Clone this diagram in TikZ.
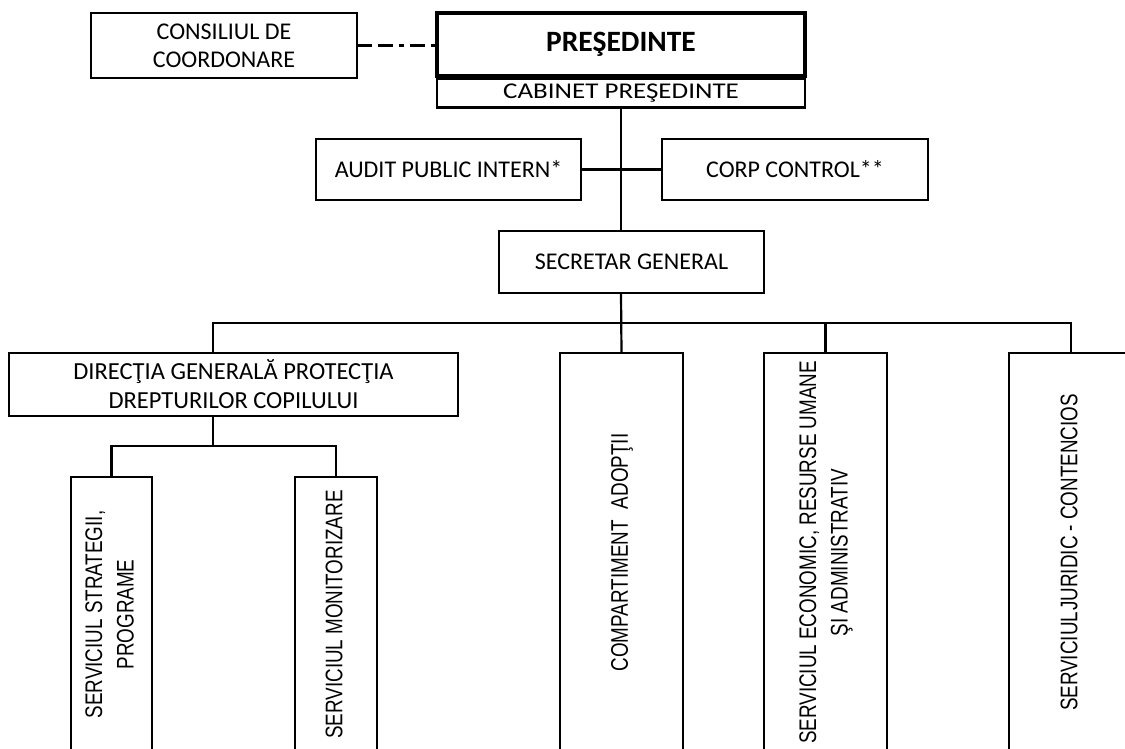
\documentclass[tikz,border=0pt]{standalone}
\usepackage{fontspec}
\setmainfont{Carlito}
\newfontfamily\vfont[FakeStretch=0.785]{Liberation Sans}
\newcommand\vtext[1]{\rotatebox{90}{\vfont\fontsize{24}{31.5}\selectfont\begin{tabular}{@{}c@{}}#1\end{tabular}}}
\begin{document}
\begin{tikzpicture}[x=1pt,y=-1pt,
  box/.style={draw, line width=2.2pt, inner sep=0pt, outer sep=0pt, align=center,
    font=\fontsize{24}{29}\selectfont},
  vbox/.style={draw, line width=2.2pt, inner sep=0pt, outer sep=0pt},
  conn/.style={line width=2.2pt},
  dashdot/.style={line width=3.5pt, dash pattern=on 15pt off 6pt on 15pt off 6pt on 5pt off 6pt}
]
\useasboundingbox (0,0) rectangle (1125,749);
\clip (0,0) rectangle (1125,749);

% top
\node[box, minimum width=266pt, minimum height=65pt, font=\fontsize{24}{28}\selectfont] (cons) at (224,45.5) {CONSILIUL DE\\COORDONARE};
\node[box, minimum width=368pt, minimum height=29pt, font=\fontsize{22.5}{28}\selectfont] (cab) at (621,93) {\scalebox{1.2}[1]{CABINET PREŞEDINTE}};
\node[box, line width=4.5pt, minimum width=368pt, minimum height=63pt, font=\fontsize{29.5}{33}\selectfont\bfseries] (pres) at (621,44.5) {PREŞEDINTE};
\node[box, minimum width=265pt, minimum height=61pt] (audit) at (448.5,169.5) {AUDIT PUBLIC INTERN*};
\node[box, minimum width=266pt, minimum height=61pt] (corp) at (795,169.5) {CORP CONTROL**};
\node[box, minimum width=265pt, minimum height=62pt] (sec) at (631.5,262) {SECRETAR GENERAL};
\node[box, minimum width=449pt, minimum height=63pt, font=\fontsize{24.5}{29}\selectfont] (dir) at (233.5,384.5) {DIRECŢIA GENERALĂ PROTECŢIA\\DREPTURILOR COPILULUI};

% vertical boxes
\node[vbox, minimum width=81pt, minimum height=275pt] (strat) at (111.5,614.5) {\vtext{SERVICIUL STRATEGII,\\PROGRAME}};
\node[vbox, minimum width=82pt, minimum height=275pt] (mon) at (336,614.5) {\vtext{SERVICIUL MONITORIZARE}};
\node[vbox, minimum width=123pt, minimum height=399pt] (comp) at (621.5,552.5) {\vtext{COMPARTIMENT\hspace{0.25em} ADOPŢII}};
\node[vbox, minimum width=123pt, minimum height=399pt] (econ) at (825.5,552.5) {\vtext{SERVICIUL ECONOMIC, RESURSE UMANE\\ŞI ADMINISTRATIV}};
\node[vbox, minimum width=124pt, minimum height=399pt] (jur) at (1071,552.5) {\vtext{SERVICIUL\hspace{0.05em}JURIDIC - CONTENCIOS}};

% connector points
\coordinate (busL) at (213,323);
\coordinate (busR) at (1071,323);
\coordinate (sub) at (213,446);

% connectors
\draw[dashdot] (cons.east) -- (cons.east -| pres.west);
\draw[conn] (cab.south) -- (sec.north -| cab.south);
\draw[conn] (audit.east) -- (corp.west);
\draw[conn] (sec.south -| cab.south) -- (comp.north);
\draw[conn] (dir.north -| busL) -- (busL) -- (busR) -- (jur.north);
\draw[conn] (econ.north) -- (econ.north |- busL);
\draw[conn] (dir.south -| sub) -- (sub);
\draw[conn] (strat.north) |- (sub) -| (mon.north);
\end{tikzpicture}
\end{document}
